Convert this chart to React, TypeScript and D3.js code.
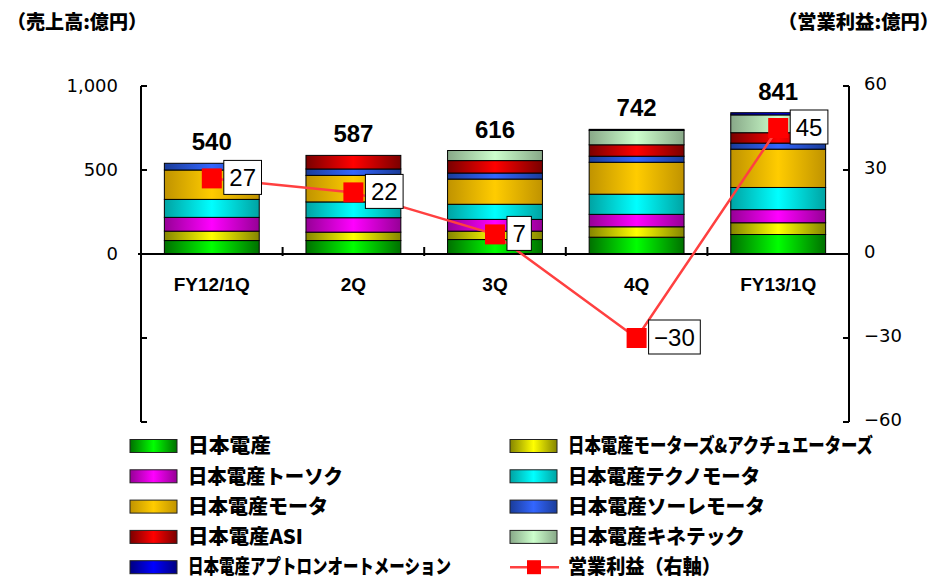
import React from 'react';
import * as d3 from 'd3';

const categories = ['FY12/1Q', '2Q', '3Q', '4Q', 'FY13/1Q'];
const seriesNames = [
  '日本電産',
  '日本電産モーターズ&アクチュエーターズ',
  '日本電産トーソク',
  '日本電産テクノモータ',
  '日本電産モータ',
  '日本電産ソーレモータ',
  '日本電産ASI',
  '日本電産キネテック',
  '日本電産アプトロンオートメーション',
];
const nidec = [80, 80, 86, 100, 116];
const motorsActuators = [56, 50, 50, 62, 70];
const tosok = [82, 86, 70, 74, 78];
const technoMotor = [107, 94, 90, 120, 132];
const motor = [175, 158, 150, 190, 228];
const soleMotor = [40, 38, 36, 36, 36];
const asi = [0, 81, 74, 68, 62];
const kinetek = [0, 0, 60, 86, 106];
const apptron = [0, 0, 0, 6, 13];
const totals = [540, 587, 616, 742, 841];
const operatingProfit = [27, 22, 7, -30, 45];
const lineName = '営業利益（右軸）';
const leftTicks = [1000, 500, 0, -500, -1000];
const rightTicks = [60, 30, 0, -30, -60];
const leftTitle = '（売上高:億円）';
const rightTitle = '（営業利益:億円）';

// styles
const seriesColors: [string, string][] = [
  ['#007000', '#00ff00'],
  ['#858500', '#ffff00'],
  ['#960096', '#ff00ff'],
  ['#00a3a3', '#00ffff'],
  ['#c09300', '#ffcc00'],
  ['#1a3c99', '#3366ff'],
  ['#7a0000', '#ff0000'],
  ['#88a888', '#ccffcc'],
  ['#000080', '#0000ff'],
];
const legendTextWidths = [83, 305, 155, 192, 140, 197, 115, 177, 263, 153];

const W = 944;
const H = 579;
const X0 = 141;
const X1 = 849;
const YTOP = 86;
const YBOT = 422;

export default function App() {
  const seriesValues = [nidec, motorsActuators, tosok, technoMotor, motor, soleMotor, asi, kinetek, apptron];
  const rows = categories.map((c, i) => {
    const r: Record<string, any> = { cat: c };
    seriesNames.forEach((n, k) => (r[n] = seriesValues[k][i]));
    return r;
  });
  const stacked = d3.stack<any>().keys(seriesNames)(rows);

  const x = d3.scaleBand<string>().domain(categories).range([X0, X1]).paddingInner(0.33).paddingOuter(0.165);
  const yL = d3.scaleLinear().domain([-1000, 1000]).range([YBOT, YTOP]);
  const yR = d3.scaleLinear().domain([-60, 60]).range([YBOT, YTOP]);
  const cx = (c: string) => (x(c) as number) + x.bandwidth() / 2;

  const lineGen = d3
    .line<number>()
    .x((_, i) => cx(categories[i]))
    .y((d) => yR(d));

  const step = (X1 - X0) / categories.length;
  const numFont = "'Liberation Sans', Arial, sans-serif";
  const jpFont = "'Noto Sans CJK JP', 'Noto Sans', sans-serif";
  const tickFont = "'DejaVu Sans', sans-serif";

  const legendItems = [...seriesNames, lineName];

  return (
    <div style={{ position: 'absolute', left: 0, top: 0 }}>
      <svg width={W} height={H} viewBox={`0 0 ${W} ${H}`} style={{ display: 'block', background: '#fff' }}>
        <defs>
          {seriesColors.map(([dark, light], k) => (
            <linearGradient key={k} id={`g${k}`} x1="0" x2="1" y1="0" y2="0">
              <stop offset="0%" stopColor={dark} />
              <stop offset="50%" stopColor={light} />
              <stop offset="100%" stopColor={dark} />
            </linearGradient>
          ))}
        </defs>

        {/* axis titles */}
        <text x={7} y={29} fontFamily={jpFont} fontWeight={900} fontSize={19} textLength={140} lengthAdjust="spacingAndGlyphs">
          {leftTitle}
        </text>
        <text x={778} y={29} fontFamily={jpFont} fontWeight={900} fontSize={19} textLength={161} lengthAdjust="spacingAndGlyphs">
          {rightTitle}
        </text>

        {/* bars */}
        {stacked.map((s, k) => (
          <g key={s.key} fill={`url(#g${k})`} stroke="#000" strokeWidth={1}>
            {s.map((d, i) =>
              d[1] - d[0] > 0 ? (
                <rect
                  key={i}
                  x={x(categories[i])}
                  width={x.bandwidth()}
                  y={yL(d[1])}
                  height={yL(d[0]) - yL(d[1])}
                />
              ) : null
            )}
          </g>
        ))}

        {/* totals */}
        {totals.map((t, i) => (
          <text
            key={i}
            x={cx(categories[i])}
            y={yL(t) - 13}
            textAnchor="middle"
            fontFamily={numFont}
            fontWeight={700}
            fontSize={24}
          >
            {t}
          </text>
        ))}

        {/* axes */}
        <g stroke="#000" strokeWidth={2} fill="none">
          <line x1={X0} x2={X0} y1={YTOP} y2={YBOT} />
          <line x1={X1} x2={X1} y1={YTOP} y2={YBOT} />
          <line x1={X0 - 3} x2={X1} y1={yL(0)} y2={yL(0)} />
          {leftTicks.map((t) => (
            <line key={t} x1={X0} x2={X0 + 6} y1={yL(t)} y2={yL(t)} />
          ))}
          {rightTicks.map((t) => (
            <line key={t} x1={X1 - 6} x2={X1} y1={yR(t)} y2={yR(t)} />
          ))}
          {categories.slice(1).map((_, i) => (
            <line key={i} x1={X0 + step * (i + 1)} x2={X0 + step * (i + 1)} y1={yL(0) - 7} y2={yL(0) + 2} />
          ))}
        </g>
        {leftTicks
          .filter((t) => t >= 0)
          .map((t) => (
            <text key={t} x={118} y={yL(t)} dy="0.36em" textAnchor="end" fontFamily={tickFont} fontSize={18}>
              {d3.format(',')(t)}
            </text>
          ))}
        {rightTicks.map((t) => (
          <text key={t} x={864} y={yR(t) - 2} dy="0.36em" textAnchor="start" fontFamily={tickFont} fontSize={18}>
            {t < 0 ? '−' + Math.abs(t) : String(t)}
          </text>
        ))}
        {categories.map((c) => (
          <text key={c} x={cx(c)} y={yL(0) + 37} textAnchor="middle" fontFamily={numFont} fontWeight={700} fontSize={19}>
            {c}
          </text>
        ))}

        {/* operating profit line */}
        <path d={lineGen(operatingProfit) || ''} fill="none" stroke="#ff4040" strokeWidth={2.5} />
        {operatingProfit.map((v, i) => {
          const px = cx(categories[i]);
          const py = yR(v);
          const label = v < 0 ? '−' + Math.abs(v) : String(v);
          const bw = String(Math.abs(v)).length * 13.35 + (v < 0 ? 14 : 0) + 11;
          return (
            <g key={i}>
              <rect x={px - 10} y={py - 10} width={20} height={20} fill="#ff0000" />
              <rect x={px + 12} y={py - 18} width={bw} height={34} fill="#fff" stroke="#000" strokeWidth={1} />
              <text x={px + 12 + bw / 2} y={py - 1} dy="0.36em" textAnchor="middle" fontFamily={numFont} fontSize={24}>
                {label}
              </text>
            </g>
          );
        })}

        {/* legend */}
        {legendItems.map((name, k) => {
          const col = k % 2;
          const row = Math.floor(k / 2);
          const lx = col === 0 ? 130 : 510;
          const ly = 446 + row * 30.3;
          const isLine = k === seriesNames.length;
          return (
            <g key={name}>
              {isLine ? (
                <g>
                  <line x1={lx} x2={lx + 49} y1={ly} y2={ly} stroke="#ff4040" strokeWidth={2.5} />
                  <rect x={lx + 17} y={ly - 7} width={14} height={14} fill="#ff0000" />
                </g>
              ) : (
                <rect x={lx} y={ly - 6.5} width={47} height={13} fill={`url(#g${k})`} stroke="#222" strokeWidth={1} />
              )}
              <text
                x={lx + 58}
                y={ly}
                dy="0.36em"
                fontFamily={jpFont}
                fontWeight={900}
                fontSize={20}
                textLength={legendTextWidths[k]}
                lengthAdjust="spacingAndGlyphs"
                fill="#000"
              >
                {name}
              </text>
            </g>
          );
        })}
      </svg>
    </div>
  );
}
